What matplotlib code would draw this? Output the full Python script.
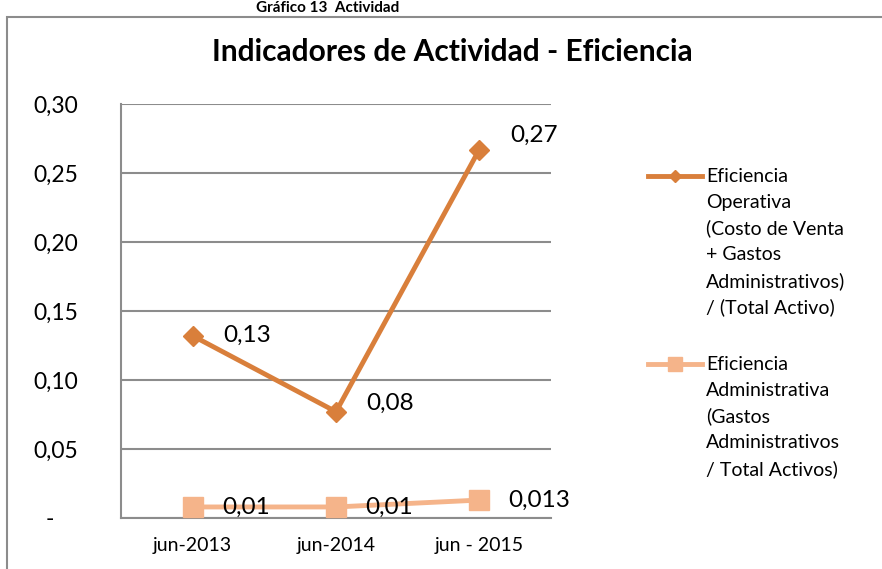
import matplotlib.pyplot as plt
import matplotlib.patches as patches
from matplotlib.lines import Line2D

plt.rcParams['font.family'] = ['Lato', 'DejaVu Sans']

periodos = ['jun-2013', 'jun-2014', 'jun - 2015']
operativa = [0.132, 0.077, 0.267]
administrativa = [0.008, 0.008, 0.013]
etiq_operativa = ['0,13', '0,08', '0,27']
etiq_administrativa = ['0,01', '0,01', '0,013']
ticks_y = [0.0, 0.05, 0.10, 0.15, 0.20, 0.25, 0.30]
etiq_y = ['-    ', '0,05', '0,10', '0,15', '0,20', '0,25', '0,30']
nombre_op = ['Eficiencia', 'Operativa', '(Costo de Venta', '+ Gastos',
             'Administrativos)', '/ (Total Activo)']
nombre_adm = ['Eficiencia', 'Administrativa', '(Gastos', 'Administrativos',
              '/ Total Activos)']

c_op = '#D97F3B'
c_adm = '#F5B48A'
W, H = 882, 569

fig = plt.figure(figsize=(8.82, 5.69), dpi=100)
ax = fig.add_axes([121/W, 1 - 518/H, 430/W, 414/H])

# marco del grafico
marco = patches.Rectangle((7/W, -0.1), 1.2, 1 - 17/H + 0.1, transform=fig.transFigure,
                          fill=False, edgecolor='#8c8c8c', linewidth=1.5)
fig.patches.append(marco)

fig.text(328/W, 1 - 1/H, 'Gráfico 13  Actividad', ha='center', va='top',
         fontsize=11, fontweight='bold')
fig.text(452/W, 1 - 52/H, 'Indicadores de Actividad - Eficiencia', ha='center', va='center',
         fontsize=21.5, fontweight='bold')

x = list(range(len(periodos)))
ax.plot(x, operativa, color=c_op, linewidth=3.5, marker='D', markersize=10, zorder=3)
ax.plot(x, administrativa, color=c_adm, linewidth=3.5, marker='s', markersize=14, zorder=3)

offs_op = [(22, 0), (22, 6), (22, 10)]
for i in x:
    ax.annotate(etiq_operativa[i], (x[i], operativa[i]), xytext=offs_op[i], textcoords='offset points',
                ha='left', va='center', fontsize=17.5)
    ax.annotate(etiq_administrativa[i], (x[i], administrativa[i]), xytext=(21, 0),
                textcoords='offset points', ha='left', va='center', fontsize=17.5)

ax.set_xlim(-0.5, 2.5)
ax.set_ylim(0, 0.30)
ax.set_xticks(x)
ax.set_xticklabels(periodos, fontsize=14)
ax.set_yticks(ticks_y)
ax.set_yticklabels(etiq_y, fontsize=16.5)
ax.tick_params(axis='y', length=0, pad=31)
ax.tick_params(axis='x', length=0, pad=14)
ax.grid(axis='y', color='#8c8c8c', linewidth=1.5)
ax.set_axisbelow(True)
for s in ['top', 'right']:
    ax.spines[s].set_visible(False)
for s in ['left', 'bottom']:
    ax.spines[s].set_color('#8c8c8c')
    ax.spines[s].set_linewidth(1.5)

# leyenda dibujada a mano
def entrada(y0, color, marker, ms, lineas):
    fig.add_artist(Line2D([648/W, 702/W], [1 - y0/H, 1 - y0/H], transform=fig.transFigure,
                          color=color, linewidth=3.5))
    fig.add_artist(Line2D([675/W], [1 - y0/H], transform=fig.transFigure, color=color,
                          marker=marker, markersize=ms, linestyle='none'))
    for k, t in enumerate(lineas):
        fig.text(706/W, 1 - (y0 + k*26.3)/H, t, ha='left', va='center', fontsize=14)

entrada(176, c_op, 'D', 6, nombre_op)
entrada(364, c_adm, 's', 10, nombre_adm)

fig.savefig('out.png', dpi=100)
